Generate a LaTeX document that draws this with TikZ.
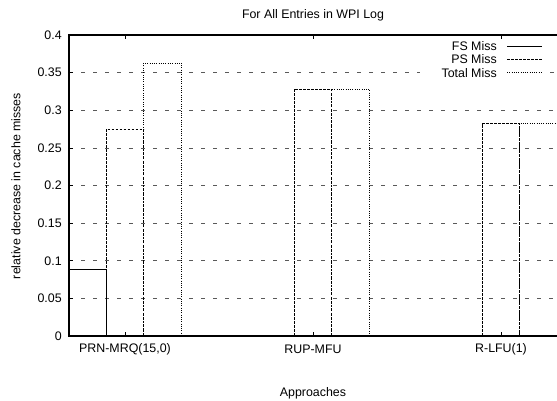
\documentclass[tikz,border=0pt]{standalone}
\usepackage{fontspec}
\setmainfont{Liberation Sans}
\usetikzlibrary{positioning}

\tikzset{
  lbl/.style={inner sep=0.75pt, font=\fontsize{9.3}{11}\selectfont},
  frameline/.style={line width=0.9pt},
  gridline/.style={color=black!65, line width=0.6pt, dash pattern=on 3pt off 6pt},
  fsbar/.style={line width=0.6pt},
  psbar/.style={line width=0.6pt, dash pattern=on 2pt off 1pt},
  totbar/.style={line width=0.6pt, dash pattern=on 0.6pt off 1.1pt},
}

\begin{document}
\begin{tikzpicture}[x=0.75pt,y=0.75pt,yscale=-1,xscale=1]
\useasboundingbox (0,0) rectangle (557,400);

% Grid
\draw [gridline] (69,298.4) -- (557,298.4);
\draw [gridline] (69,260.75) -- (557,260.75);
\draw [gridline] (69,223.1) -- (557,223.1);
\draw [gridline] (69,185.5) -- (557,185.5);
\draw [gridline] (69,147.9) -- (557,147.9);
\draw [gridline] (69,110.25) -- (557,110.25);
\draw [gridline] (69,72.6) -- (420,72.6);
\draw [gridline] (550,72.6) -- (557,72.6);

% Frame
\draw [frameline] (557,35) -- (69,35) -- (69,336) -- (557,336);

% Ticks
\foreach \ty in {298.4,260.75,223.1,185.5,147.9,110.25,72.6} {
  \draw [line width=0.6pt] (69,\ty) -- (73,\ty);
}
\foreach \tx in {125,313,501} {
  \draw [line width=0.6pt] (\tx,336) -- (\tx,332);
  \draw [line width=0.6pt] (\tx,35) -- (\tx,39);
}

% Bars: PRN-MRQ(15,0)
\draw [fsbar] (68.6,336) rectangle (106.4,269.8);
\draw [psbar] (106.4,336) rectangle (143.8,129.1);
\draw [totbar] (143.8,336) rectangle (181.4,63);
% Bars: RUP-MFU
\draw [psbar] (294.2,336) rectangle (331.8,89.2);
\draw [totbar] (331.8,336) rectangle (369.4,89.2);
% Bars: R-LFU(1)
\draw [psbar] (482.2,336) rectangle (519.8,123.8);
\draw [totbar] (519.8,336) rectangle (557.4,123.8);

% Title and axis labels
\node [lbl] (title) at (313,15) {For All Entries in WPI Log};
\node [lbl] (xlabel) at (313,393) {Approaches};
\node [lbl, rotate=90] (ylabel) at (16,186) {relative decrease in cache misses};

% Y tick labels
\node [lbl, anchor=east] (y0) at (63,336) {0};
\node [lbl, anchor=east] (y1) at (63,298.4) {0.05};
\node [lbl, anchor=east] (y2) at (63,260.75) {0.1};
\node [lbl, anchor=east] (y3) at (63,223.1) {0.15};
\node [lbl, anchor=east] (y4) at (63,185.5) {0.2};
\node [lbl, anchor=east] (y5) at (63,147.9) {0.25};
\node [lbl, anchor=east] (y6) at (63,110.25) {0.3};
\node [lbl, anchor=east] (y7) at (63,72.6) {0.35};
\node [lbl, anchor=east] (y8) at (63,35) {0.4};

% X tick labels
\node [lbl] (prn) at (125,349) {PRN-MRQ(15,0)};
\node [lbl] (rup) at (313,349) {RUP-MFU};
\node [lbl] (rlfu) at (501,349) {R-LFU(1)};

% Legend
\node [lbl, anchor=east] (fskey) at (498,46) {FS Miss};
\node [lbl, anchor=east] (pskey) at (498,59.5) {PS Miss};
\node [lbl, anchor=east] (totkey) at (498,72.6) {Total Miss};
\draw [fsbar] (507,46) -- (542,46);
\draw [psbar] (507,59.5) -- (542,59.5);
\draw [totbar] (507,72.6) -- (542,72.6);

\end{tikzpicture}
\end{document}
